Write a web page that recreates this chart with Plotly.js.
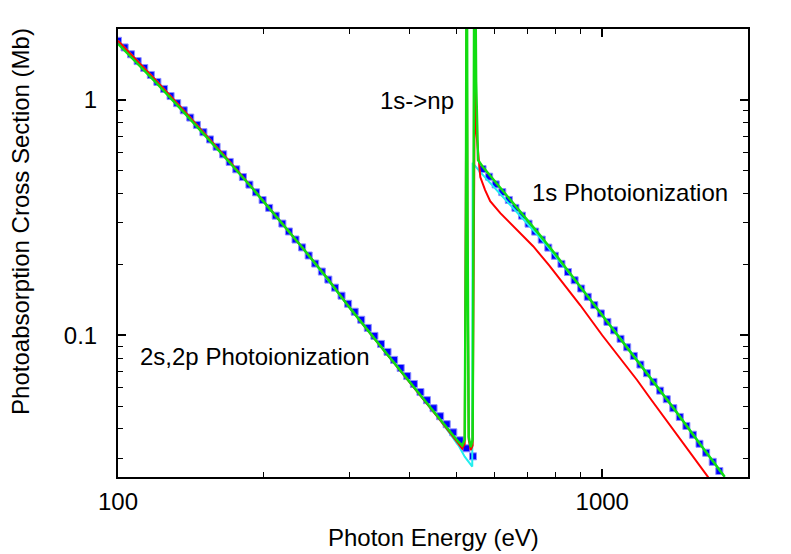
<!DOCTYPE html>
<html>
<head>
<meta charset="utf-8">
<script src="https://cdn.plot.ly/plotly-3.0.1.min.js"></script>
<style>
    html, body {margin: 0; padding: 0; background: #fff;}
    #chart {width: 791px; height: 554px;}
</style>
</head>
<body>
<div id="chart"></div>
<script>
// blue squares: below and above the 1s edge (eV, Mb)
const squareEnergyLow = [100, 103.2, 106.4, 109.8, 113.3, 116.9, 120.6, 124.5, 128.4, 132.5, 136.7, 141.0, 145.5, 150.1, 154.9, 159.8, 164.9, 170.1, 175.5, 181.1, 186.8, 192.8, 198.9, 205.2, 211.7, 218.5, 225.4, 232.6, 240.0, 247.6, 255.4, 263.6, 271.9, 280.6, 289.5, 298.7, 308.2, 317.9, 328.0, 338.5, 349.2, 360.3, 371.7, 383.5, 395.7, 408.3, 421.3, 434.6, 448.4, 462.7, 477.3, 492.5, 508.1, 524.2, 540.9];
const squareSigmaLow = [1.782, 1.670, 1.562, 1.461, 1.366, 1.276, 1.192, 1.113, 1.038, 0.968, 0.903, 0.841, 0.783, 0.729, 0.679, 0.632, 0.587, 0.545, 0.507, 0.470, 0.4365, 0.4048, 0.3754, 0.3477, 0.3222, 0.2982, 0.2760, 0.2551, 0.2362, 0.2182, 0.2017, 0.1865, 0.1724, 0.1593, 0.1473, 0.1361, 0.1259, 0.1164, 0.1075, 0.0994, 0.0919, 0.0850, 0.0786, 0.0726, 0.0671, 0.0621, 0.0574, 0.0530, 0.0490, 0.0453, 0.0419, 0.0387, 0.0358, 0.0331, 0.0306];
const squareEnergyHigh = [566, 584, 602.5, 621.7, 641.4, 661.8, 682.8, 704.5, 726.9, 750, 773.8, 798.4, 823.7, 849.9, 876.9, 904.7, 933.5, 963.1, 993.7, 1025, 1058, 1091, 1126, 1162, 1199, 1237, 1276, 1317, 1359, 1402, 1446, 1492, 1539, 1588, 1639, 1691, 1745];
const squareSigmaHigh = [0.5085, 0.4717, 0.4374, 0.4057, 0.3757, 0.3477, 0.3222, 0.2979, 0.2757, 0.2549, 0.2357, 0.2177, 0.2011, 0.1856, 0.1713, 0.1580, 0.1457, 0.1343, 0.1238, 0.1140, 0.1049, 0.0966, 0.0889, 0.0817, 0.0751, 0.0690, 0.0634, 0.0582, 0.0535, 0.0490, 0.0450, 0.0412, 0.0378, 0.0346, 0.0317, 0.0290, 0.0265];

// red curve
const redEnergy = [100, 110, 120, 135, 150, 170, 190, 215, 240, 270, 300, 340, 380, 420, 460, 490, 505, 514, 520, 523, 525, 527, 530, 535, 540, 543, 546, 549, 554, 560, 573, 587, 616, 637, 668, 720, 777, 843, 901, 1000, 1181, 1257, 1572, 1656];
const redSigma = [1.782, 1.457, 1.206, 0.928, 0.7317, 0.5473, 0.4198, 0.3107, 0.2364, 0.1757, 0.132, 0.0957, 0.0722, 0.0562, 0.0443, 0.0375, 0.0345, 0.0330, 0.0345, 0.25, 3.0, 0.25, 0.036, 0.0325, 0.034, 0.25, 1.5, 0.75, 0.595, 0.47, 0.4137, 0.3713, 0.3302, 0.3087, 0.280, 0.239, 0.198, 0.160, 0.1341, 0.100, 0.0644, 0.0539, 0.02853, 0.0249];

// green curve
const greenEnergy = [100, 110, 120, 135, 150, 170, 190, 215, 240, 270, 300, 340, 380, 420, 460, 490, 505, 514, 520, 523, 525, 527, 530, 535, 540, 542, 545, 549, 554, 566, 600, 650, 700, 745, 800, 900, 1054, 1200, 1400, 1600, 1790];
const greenSigma = [1.731, 1.423, 1.181, 0.911, 0.720, 0.542, 0.418, 0.3107, 0.2364, 0.1757, 0.132, 0.0957, 0.0722, 0.0562, 0.0443, 0.0378, 0.0352, 0.0340, 0.036, 0.3, 10, 0.3, 0.037, 0.0335, 0.036, 0.3, 10, 1.2, 0.555, 0.521, 0.452, 0.368, 0.31, 0.265, 0.221, 0.1613, 0.1066, 0.0752, 0.0494, 0.0340, 0.02505];

// cyan curve
const cyanEnergy = [100, 120, 150, 190, 240, 300, 380, 460, 505, 520, 539, 540, 560, 650, 745, 900, 1054, 1200, 1400, 1600, 1790];
const cyanSigma = [1.782, 1.206, 0.7317, 0.4198, 0.2364, 0.132, 0.0722, 0.0443, 0.034, 0.0305, 0.0277, 0.54, 0.4934, 0.354, 0.259, 0.1613, 0.1066, 0.0752, 0.0494, 0.0340, 0.02505];

const xMinor = [200, 300, 400, 500, 600, 700, 800, 900, 2000];
const yMinor = [0.03, 0.04, 0.05, 0.06, 0.07, 0.08, 0.09, 0.2, 0.3, 0.4, 0.5, 0.6, 0.7, 0.8, 0.9, 2];

const font = "Liberation Sans, Arial, sans-serif";
const textFont = {family: font, size: 24, color: "#000"};

function axisBase() {
    return {
        type: "log",
        showgrid: false,
        zeroline: false,
        showline: true,
        linecolor: "#000",
        linewidth: 2,
        mirror: "ticks",
        ticks: "inside",
        ticklen: 8,
        tickwidth: 1.5,
        tickcolor: "#000",
        tickfont: textFont,
        minor: {ticks: "inside", ticklen: 5, tickwidth: 1.2, tickcolor: "#000", showgrid: false},
        automargin: false
    };
}

const traces = [
    {
        x: squareEnergyLow.concat(squareEnergyHigh),
        y: squareSigmaLow.concat(squareSigmaHigh),
        type: "scatter",
        mode: "markers",
        marker: {symbol: "square", size: 7, color: "#0000ff", line: {width: 1, color: "#8c8cff"}}
    },
    {x: cyanEnergy, y: cyanSigma, type: "scatter", mode: "lines", line: {color: "#22eeee", width: 2}},
    {x: redEnergy, y: redSigma, type: "scatter", mode: "lines", line: {color: "#ff0000", width: 2}},
    {x: greenEnergy, y: greenSigma, type: "scatter", mode: "lines", line: {color: "#11dd11", width: 2.5}}
];

const xaxis = Object.assign(axisBase(), {
    range: [2, Math.log10(2000)],
    tickvals: [100, 1000],
    ticktext: ["100", "1000"],
    ticklabelstandoff: 2
});
xaxis.minor.tickvals = xMinor;

const yaxis = Object.assign(axisBase(), {
    range: [Math.log10(0.025), Math.log10(2)],
    tickvals: [0.1, 1],
    ticktext: ["0.1", "1"],
    ticklabelstandoff: 14
});
yaxis.minor.tickvals = yMinor;

function label(text, x, y, xanchor, extra) {
    return Object.assign({
        text: text, xref: "paper", yref: "paper", x: x, y: y,
        xanchor: xanchor, yanchor: "middle", showarrow: false, font: textFont
    }, extra || {});
}

const layout = {
    width: 791,
    height: 554,
    margin: {l: 118, r: 43, t: 29, b: 77},
    paper_bgcolor: "#fff",
    plot_bgcolor: "#fff",
    showlegend: false,
    xaxis: xaxis,
    yaxis: yaxis,
    annotations: [
        // axis titles
        label("Photon Energy (eV)", 0.5, -0.134, "center"),
        label("Photoabsorption Cross Section (Mb)", -0.156, 0.571, "center", {textangle: -90}),
        // region labels
        label("1s->np", 0.4746, 0.8415, "center"),
        label("1s Photoionization", 0.654, 0.634, "left"),
        label("2s,2p Photoionization", 0.0317, 0.268, "left")
    ]
};

Plotly.newPlot("chart", traces, layout, {displayModeBar: false});
</script>
</body>
</html>
